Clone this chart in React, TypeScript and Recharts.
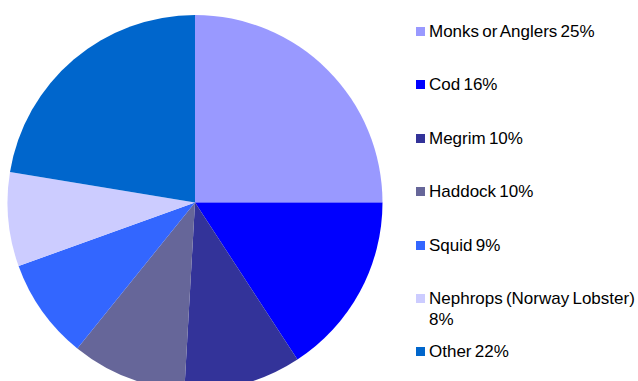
import { PieChart, Pie, Cell, Legend } from "recharts";

// species share of landings (%), slice sizes;
// the legend shows them rounded
const species = [
    "Monks or Anglers",
    "Cod",
    "Megrim",
    "Haddock",
    "Squid",
    "Nephrops (Norway Lobster)",
    "Other",
];
const shares = [25, 15.8, 10.1, 9.9, 8.7, 8.1, 22.4];
const sliceColors = ["#9999FF", "#0000FF", "#333399", "#666699", "#3366FF", "#CCCCFF", "#0066CC"];

const data = species.map((name, i) => ({ name, value: shares[i] }));

function SpeciesLegend() {
    return (
        <div style={{ display: "flex", flexDirection: "column" }}>
            {data.map((d, i) => (
                <div key={d.name} style={{ display: "flex", alignItems: "flex-start", height: 53.4 }}>
                    <span
                        style={{
                            width: 9,
                            height: 9,
                            marginTop: 6,
                            marginRight: 4,
                            flex: "none",
                            background: sliceColors[i],
                        }}
                    />
                    <span style={{ width: 209, lineHeight: "21px", wordSpacing: "-1.5px" }}>
                        {d.name} {Math.round(d.value)}%
                    </span>
                </div>
            ))}
        </div>
    );
}

export default function App() {
    return (
        <div
            style={{
                position: "absolute",
                left: 0,
                top: 0,
                width: 638,
                height: 381,
                overflow: "hidden",
                background: "#fff",
                fontFamily: "'Liberation Sans', Arial, sans-serif",
                fontSize: 17,
                color: "#000",
            }}
        >
            <PieChart width={638} height={381} margin={{ top: 0, right: 0, bottom: 0, left: 0 }}>
                <Pie
                    data={data}
                    dataKey="value"
                    nameKey="name"
                    cx={195}
                    cy={202.5}
                    outerRadius={187.5}
                    startAngle={90}
                    endAngle={-270}
                    stroke="none"
                    isAnimationActive={false}
                >
                    {data.map((d, i) => (
                        <Cell key={d.name} fill={sliceColors[i]} />
                    ))}
                </Pie>
                <Legend
                    layout="vertical"
                    align="right"
                    verticalAlign="middle"
                    content={<SpeciesLegend />}
                    wrapperStyle={{ position: "absolute", left: 416, top: 21, width: 222 }}
                />
            </PieChart>
        </div>
    );
}
